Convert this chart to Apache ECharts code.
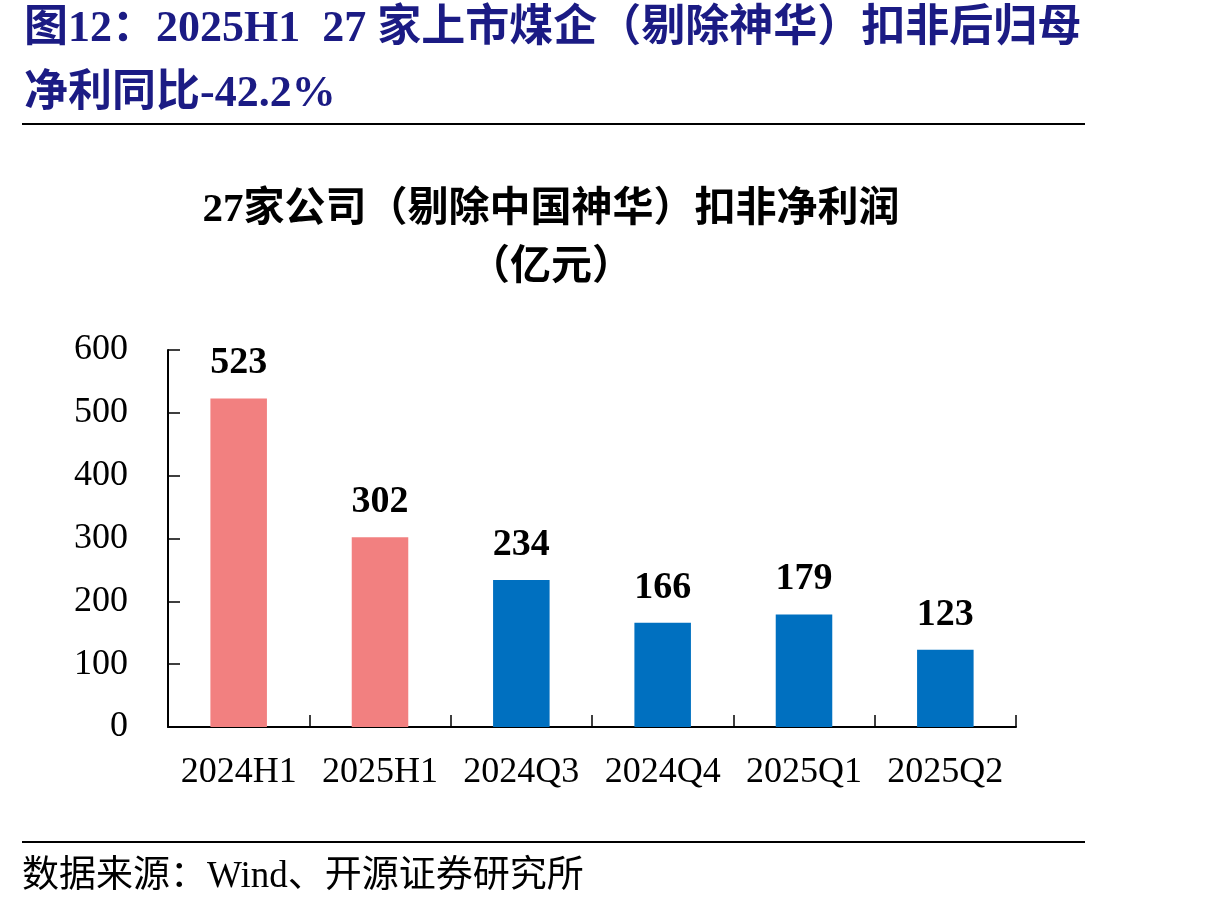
<!DOCTYPE html>
<html>
<head>
<meta charset="utf-8">
<script src="https://cdn.jsdelivr.net/npm/echarts@6/dist/echarts.min.js"></script>
<style>
  html, body { margin: 0; padding: 0; background: #fff; }
  #chart { width: 1210px; height: 908px; }
</style>
</head>
<body>
<div id="chart"></div>
<script>
const categories = ['2024H1', '2025H1', '2024Q3', '2024Q4', '2025Q1', '2025Q2'];
const profits = [523, 302, 234, 166, 179, 123];
const yTicks = [0, 100, 200, 300, 400, 500, 600];

const PINK = '#F28080';
const BLUE = '#0070C0';
const serif = '"Liberation Serif", "Noto Sans CJK SC", serif';
const navy = '#1B1B84';

const chart = echarts.init(document.getElementById('chart'));

const option = {
  animation: false,
  backgroundColor: '#fff',
  grid: { left: 168, right: 194, top: 350, bottom: 181 },
  graphic: [
    {
      type: 'text', x: 24, y: 30,
      style: { text: '图12：2025H1  27 家上市煤企（剔除神华）扣非后归母', fill: navy, font: 'bold 44px ' + serif, verticalAlign: 'middle' }
    },
    {
      type: 'text', x: 24, y: 95,
      style: { text: '净利同比-42.2%', fill: navy, font: 'bold 44px ' + serif, verticalAlign: 'middle' }
    },
    {
      type: 'line', shape: { x1: 22, y1: 124, x2: 1085, y2: 124 },
      style: { stroke: '#000', lineWidth: 2 }
    },
    {
      type: 'text', x: 551, y: 210,
      style: { text: '27家公司（剔除中国神华）扣非净利润', fill: '#000', font: 'bold 41px ' + serif, align: 'center', verticalAlign: 'middle' }
    },
    {
      type: 'text', x: 551, y: 268,
      style: { text: '（亿元）', fill: '#000', font: 'bold 41px ' + serif, align: 'center', verticalAlign: 'middle' }
    },
    {
      type: 'line', shape: { x1: 22, y1: 842, x2: 1085, y2: 842 },
      style: { stroke: '#000', lineWidth: 2 }
    },
    {
      type: 'text', x: 22, y: 877,
      style: { text: '数据来源：Wind、开源证券研究所', fill: '#000', font: '37px ' + serif, verticalAlign: 'middle' }
    }
  ],
  xAxis: {
    type: 'category',
    data: categories,
    axisLine: { lineStyle: { color: '#000', width: 2 } },
    axisTick: { show: true, inside: true, interval: 0, length: 12, lineStyle: { color: '#000', width: 1.5 } },
    axisLabel: { color: '#000', fontFamily: serif, fontSize: 36, margin: 28, interval: 0, hideOverlap: false }
  },
  yAxis: {
    type: 'value',
    min: yTicks[0],
    max: yTicks[yTicks.length - 1],
    interval: 100,
    splitLine: { show: false },
    axisLine: { show: true, lineStyle: { color: '#000', width: 2 } },
    axisTick: { show: true, inside: true, length: 12, lineStyle: { color: '#000', width: 1.5 } },
    axisLabel: { color: '#000', fontFamily: serif, fontSize: 36, margin: 40 }
  },
  series: [
    {
      type: 'bar',
      barWidth: '40%',
      data: profits.map((v, i) => ({ value: v, itemStyle: { color: i < 2 ? PINK : BLUE } })),
      label: {
        show: true,
        position: 'top',
        distance: 16,
        color: '#000',
        fontFamily: serif,
        fontWeight: 'bold',
        fontSize: 38
      }
    }
  ]
};

chart.setOption(option);
</script>
</body>
</html>
